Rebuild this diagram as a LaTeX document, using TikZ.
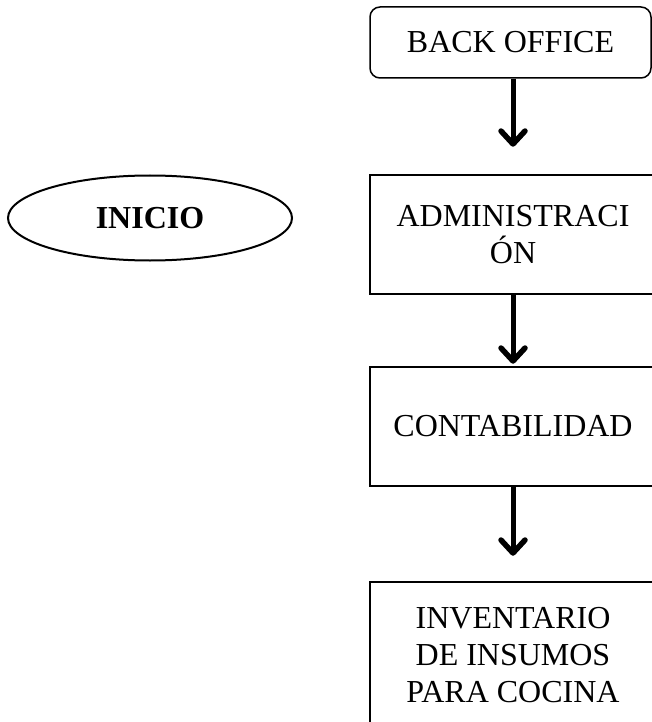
\documentclass[tikz,border=0pt]{standalone}
\usepackage{fontspec}
\setmainfont{Liberation Serif}
\usetikzlibrary{arrows.meta, positioning, shapes.geometric}

\begin{document}
\begin{tikzpicture}[x=1pt, y=-1pt,
			>={Straight Barb[length=13pt, width=24pt, line width=5.5pt, round]},
			every node/.style={font=\fontsize{32}{37}\selectfont, align=center},
			box/.style={draw, line width=2.5pt, minimum width=286pt, inner sep=0pt},
			flow/.style={->, line width=5pt}]

			\useasboundingbox (0,0) rectangle (652,722);
			\clip (0,0) rectangle (652,722);

			\node (inicio) [draw, ellipse, line width=2pt, minimum width=284pt, minimum height=85pt, inner sep=0pt] at (150,218) {\textbf{INICIO}};
			\node (back) [box, line width=1.5pt, rounded corners=10pt, minimum width=281pt, minimum height=71pt] at (510.5,42.5) {BACK OFFICE};
			\node (admin) [box, minimum height=119pt] at (513,234.5) {ADMINISTRACI\\ÓN};
			\node (conta) [box, minimum height=119pt] at (513,426.5) {CONTABILIDAD};
			\node (inv) [box, minimum height=146pt] at (513,655) {INVENTARIO\\DE INSUMOS\\PARA COCINA};

			\draw[flow, shorten >=27pt] (admin.north |- back.south) -- (admin.north);
			\draw[flow, shorten >=2pt] (admin.south) -- (conta.north);
			\draw[flow, shorten >=25pt] (conta.south) -- (inv.north);
		\end{tikzpicture}
\end{document}
